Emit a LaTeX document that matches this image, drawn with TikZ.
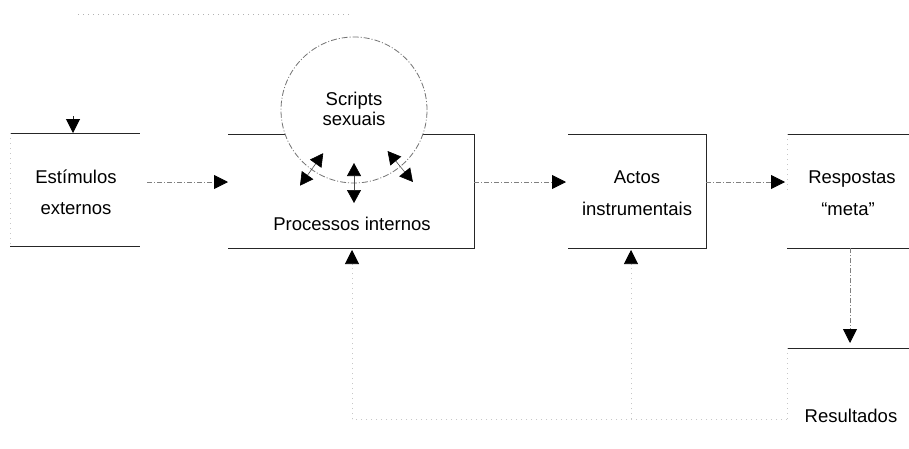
\documentclass[tikz,border=0pt]{standalone}
\usepackage{fontspec}
\setmainfont{Liberation Sans}
\usetikzlibrary{arrows.meta}
\begin{document}
\begin{tikzpicture}[x=1pt,y=-1pt,
  area/.style={inner sep=0pt, outer sep=0pt, draw=none},
  edge/.style={line width=1pt, black!85},
  thin shaft/.style={line width=0.6pt, black!70},
  faintline/.style={line width=0.6pt, black!22, dash pattern=on 1pt off 4pt},
  conn/.style={line width=0.8pt, black!50, dash pattern=on 5pt off 2pt on 1pt off 2pt},
  tip/.style={-{Triangle[length=14pt,width=14pt,color=black]}},
  dtip/.style={{Triangle[length=13pt,width=14pt,color=black]}-{Triangle[length=13pt,width=14pt,color=black]}},
  txt/.style={font=\fontsize{18.5}{22}\selectfont, inner sep=0pt, anchor=base},
  ring/.style={circle, draw=black!55, line width=0.8pt, dash pattern=on 6pt off 2pt on 1pt off 2pt, fill=white, inner sep=0pt, minimum size=146pt}
]
\useasboundingbox (0,0) rectangle (909,448);
\fill[white] (0,0) rectangle (909,448);

% scan artefact at the top
\coordinate (artA) at (78,14);
\coordinate (artB) at (352,14);
\draw[faintline, black!30] (artA) -- (artB);

% box areas
\node[area, minimum width=130pt, minimum height=113pt] (b1) at (75,189.5) {};
\node[area, minimum width=246pt, minimum height=114pt] (b2) at (351,191) {};
\node[area, minimum width=138pt, minimum height=114pt] (b3) at (637,191) {};
\node[area, minimum width=122pt, minimum height=114pt] (b4) at (848,191) {};
\node[area, minimum width=122pt, minimum height=71pt] (b5) at (848,383.5) {};

% box 1
\draw[edge] (b1.north west) -- (b1.north east);
\draw[edge] (b1.south west) -- (b1.south east);
\draw[faintline] (b1.north west) -- (b1.south west);
% box 2
\draw[edge] (b2.north west) -- (b2.north east) -- (b2.south east) -- (b2.south west);
% box 3
\draw[edge] (b3.north west) -- (b3.north east) -- (b3.south east) -- (b3.south west);
% box 4
\draw[edge] (b4.north west) -- (b4.north east);
\draw[edge] (b4.south west) -- (b4.south east);
\draw[faintline] (b4.north west) -- (b4.west);
% box 5
\draw[edge] (b5.north west) -- (b5.north east);
\draw[faintline] (b5.north west) -- (b5.south west);

% circle
\node[ring] (sc) at (354,110) {};

% texts
\node[txt] (t1a) at (76,183) {Estímulos};
\node[txt] (t1b) at (76,214.5) {externos};
\node[txt] (t2a) at (354,105) {Scripts};
\node[txt] (t2b) at (354,125.5) {sexuais};
\node[txt] (t2c) at (352,230) {Processos internos};
\node[txt] (t3a) at (637,183) {Actos};
\node[txt] (t3b) at (637,215) {instrumentais};
\node[txt] (t4a) at (852,183) {Respostas};
\node[txt] (t4b) at (848,215) {“meta”};
\node[txt] (t5) at (851,422.5) {Resultados};

% arrow into box 1 from above
\coordinate (in1) at (73,116);
\draw[edge, tip] (in1) -- (b1.north -| in1);

% main chain
\draw[conn, tip, shorten <=7pt] ([yshift=7.5pt]b1.east) -- ([yshift=9pt]b2.west);
\draw[conn, tip, shorten >=2pt] ([yshift=9pt]b2.east) -- ([yshift=9pt]b3.west);
\draw[conn, tip, shorten >=2pt] ([yshift=9pt]b3.east) -- ([yshift=9pt]b4.west);
\draw[conn, tip, shorten >=5pt] ([xshift=2pt]b4.south) -- ([xshift=2pt]b5.north);

% radial double arrows between scripts and internal processes
\draw[thin shaft, dtip] ([shift={(125.5:53)}]sc.center) -- ([shift={(125.5:93)}]sc.center);
\draw[thin shaft, dtip] ([shift={(90:53)}]sc.center) -- ([shift={(90:93)}]sc.center);
\draw[thin shaft, dtip] ([shift={(50.7:53)}]sc.center) -- ([shift={(50.7:93)}]sc.center);

% feedback from results
\coordinate (fb2) at (352,419);
\coordinate (fb3) at (631,419);
\draw[faintline] (b5.south west) -- (fb2);
\draw[faintline, tip, shorten >=2pt] (fb2) -- (fb2 |- b2.south);
\draw[faintline, tip, shorten >=2pt] (fb3) -- (fb3 |- b3.south);
\end{tikzpicture}
\end{document}
